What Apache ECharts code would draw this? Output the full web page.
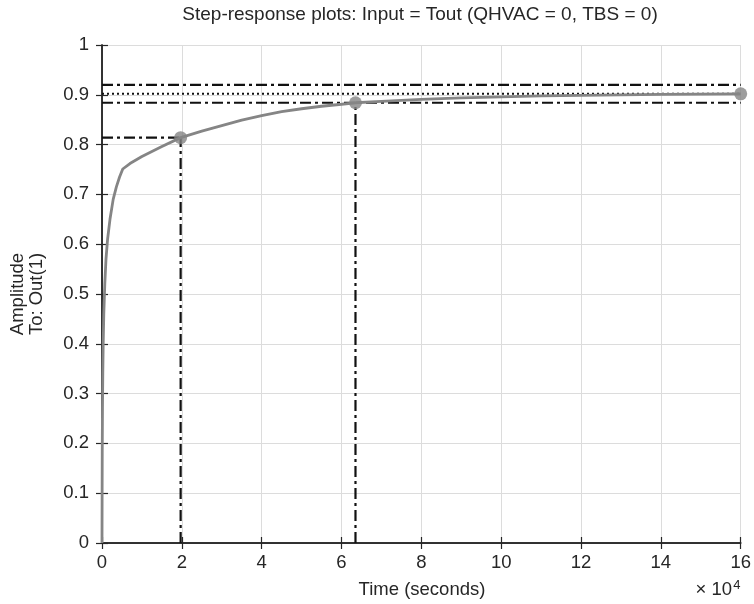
<!DOCTYPE html>
<html>
<head>
<meta charset="utf-8">
<script src="https://cdn.jsdelivr.net/npm/echarts@6/dist/echarts.min.js"></script>
<style>html,body{margin:0;padding:0;background:#fff}#c{width:754px;height:604px}</style>
</head>
<body>
<div id="c"></div>
<script>
// Time in units of 1e4 seconds
const timeData = [0, 0.003, 0.006, 0.012, 0.02, 0.03, 0.045, 0.07, 0.1, 0.14, 0.2, 0.28, 0.36, 0.44, 0.52, 0.7, 1.0, 1.5, 1.97, 2.5, 3.0, 3.5, 4.0, 4.5, 5.0, 5.5, 6.0, 6.35, 7.0, 8.0, 9.0, 10.0, 11.0, 12.0, 13.0, 14.0, 15.0, 16.0];
const ampData  = [0, 0.10, 0.18, 0.27, 0.34, 0.40, 0.46, 0.52, 0.57, 0.61, 0.65, 0.69, 0.715, 0.735, 0.751, 0.762, 0.776, 0.796, 0.814, 0.827, 0.838, 0.849, 0.858, 0.866, 0.872, 0.877, 0.881, 0.884, 0.887, 0.891, 0.894, 0.896, 0.898, 0.899, 0.900, 0.901, 0.9015, 0.902];
const steadyValue = 0.902;
const bandUpper = 0.920;
const bandLower = 0.884;
const risePoint = [1.97, 0.814];
const settlePoint = [6.35, 0.884];
const finalPoint = [16, 0.902];
const xTicks = [0, 2, 4, 6, 8, 10, 12, 14, 16];
const yTicks = [0, 0.1, 0.2, 0.3, 0.4, 0.5, 0.6, 0.7, 0.8, 0.9, 1];
const titleText = 'Step-response plots: Input = Tout (QHVAC = 0, TBS = 0)';
const xLabel = 'Time (seconds)';
const yLabelLines = ['Amplitude', 'To: Out(1)'];

const FONT = '"Liberation Sans", Arial, Helvetica, sans-serif';
const TXT = '#262626';
const FS = 18.5;
const dashDot = [11, 4, 3, 4];

const curve = timeData.map((t, i) => [t, ampData[i]]);
const xMin = xTicks[0], xMax = xTicks[xTicks.length - 1];

function refLine(data, type, width) {
  return {
    type: 'line', data: data, showSymbol: false, silent: true,
    lineStyle: { color: '#111', width: width, type: type }, z: 3
  };
}

const axisCommon = {
  axisLine: { show: true, lineStyle: { color: '#262626', width: 1.5 } },
  axisTick: { show: true, inside: false, length: 6, lineStyle: { color: '#262626', width: 1.2 } }
};

const chart = echarts.init(document.getElementById('c'), null, { renderer: 'canvas' });
chart.setOption({
  animation: false,
  backgroundColor: '#fff',
  grid: { left: 101, right: 11, top: 45, bottom: 61, containLabel: false },
  xAxis: [
    Object.assign({
      type: 'value', min: xMin, max: xMax, interval: 2, position: 'bottom',
      axisLabel: { color: TXT, fontSize: FS, fontFamily: FONT, margin: 10 },
      splitLine: { show: true, lineStyle: { color: '#dcdcdc', width: 1 } }
    }, axisCommon),
    Object.assign({
      type: 'value', min: xMin, max: xMax, interval: 2, position: 'top',
      axisLabel: { show: false }, splitLine: { show: false }
    }, axisCommon)
  ],
  yAxis: [
    Object.assign({
      type: 'value', min: 0, max: 1, interval: 0.1, position: 'left',
      axisLabel: { color: TXT, fontSize: FS, fontFamily: FONT, margin: 13,
        formatter: v => String(Math.round(v * 10) / 10) },
      splitLine: { show: true, lineStyle: { color: '#dcdcdc', width: 1 } },
      name: yLabelLines.join('\n'), nameLocation: 'middle', nameRotate: 90, nameGap: 56,
      nameTextStyle: { color: TXT, fontSize: FS, fontFamily: FONT, lineHeight: 19 }
    }, axisCommon),
    Object.assign({
      type: 'value', min: 0, max: 1, interval: 0.1, position: 'right',
      axisLabel: { show: false }, splitLine: { show: false }
    }, axisCommon)
  ],
  graphic: [
    { type: 'text', x: 420, y: 15, style: { text: titleText, fill: TXT, font: '19px ' + FONT, textAlign: 'center', textVerticalAlign: 'middle' } },
    { type: 'text', x: 422, y: 590, style: { text: xLabel, fill: TXT, font: FS + 'px ' + FONT, textAlign: 'center', textVerticalAlign: 'middle' } },
    { type: 'text', x: 718, y: 590, style: {
        text: '{a|× 10}{b|4}', textAlign: 'center', textVerticalAlign: 'middle',
        rich: {
          a: { fill: TXT, fontSize: FS, fontFamily: FONT },
          b: { fill: TXT, fontSize: 13, fontFamily: FONT, verticalAlign: 'top', padding: [0, 0, 10, 1] }
        } } }
  ],
  series: [
    refLine([[xMin, bandUpper], [xMax, bandUpper]], dashDot, 2.2),
    refLine([[xMin, bandLower], [xMax, bandLower]], dashDot, 2.2),
    refLine([[xMin, steadyValue], [xMax, steadyValue]], [2, 3], 2),
    refLine([[xMin, risePoint[1]], risePoint], dashDot, 2.2),
    refLine([[risePoint[0], 0], risePoint], dashDot, 2.2),
    refLine([[settlePoint[0], 0], settlePoint], dashDot, 2.2),
    {
      type: 'line', data: curve, showSymbol: false, silent: true, z: 4,
      lineStyle: { color: '#858585', width: 2.8 }
    },
    {
      type: 'scatter', data: [risePoint, settlePoint, finalPoint], symbol: 'circle', symbolSize: 13,
      itemStyle: { color: '#858585' }, z: 5, silent: true
    }
  ]
});
</script>
</body>
</html>
